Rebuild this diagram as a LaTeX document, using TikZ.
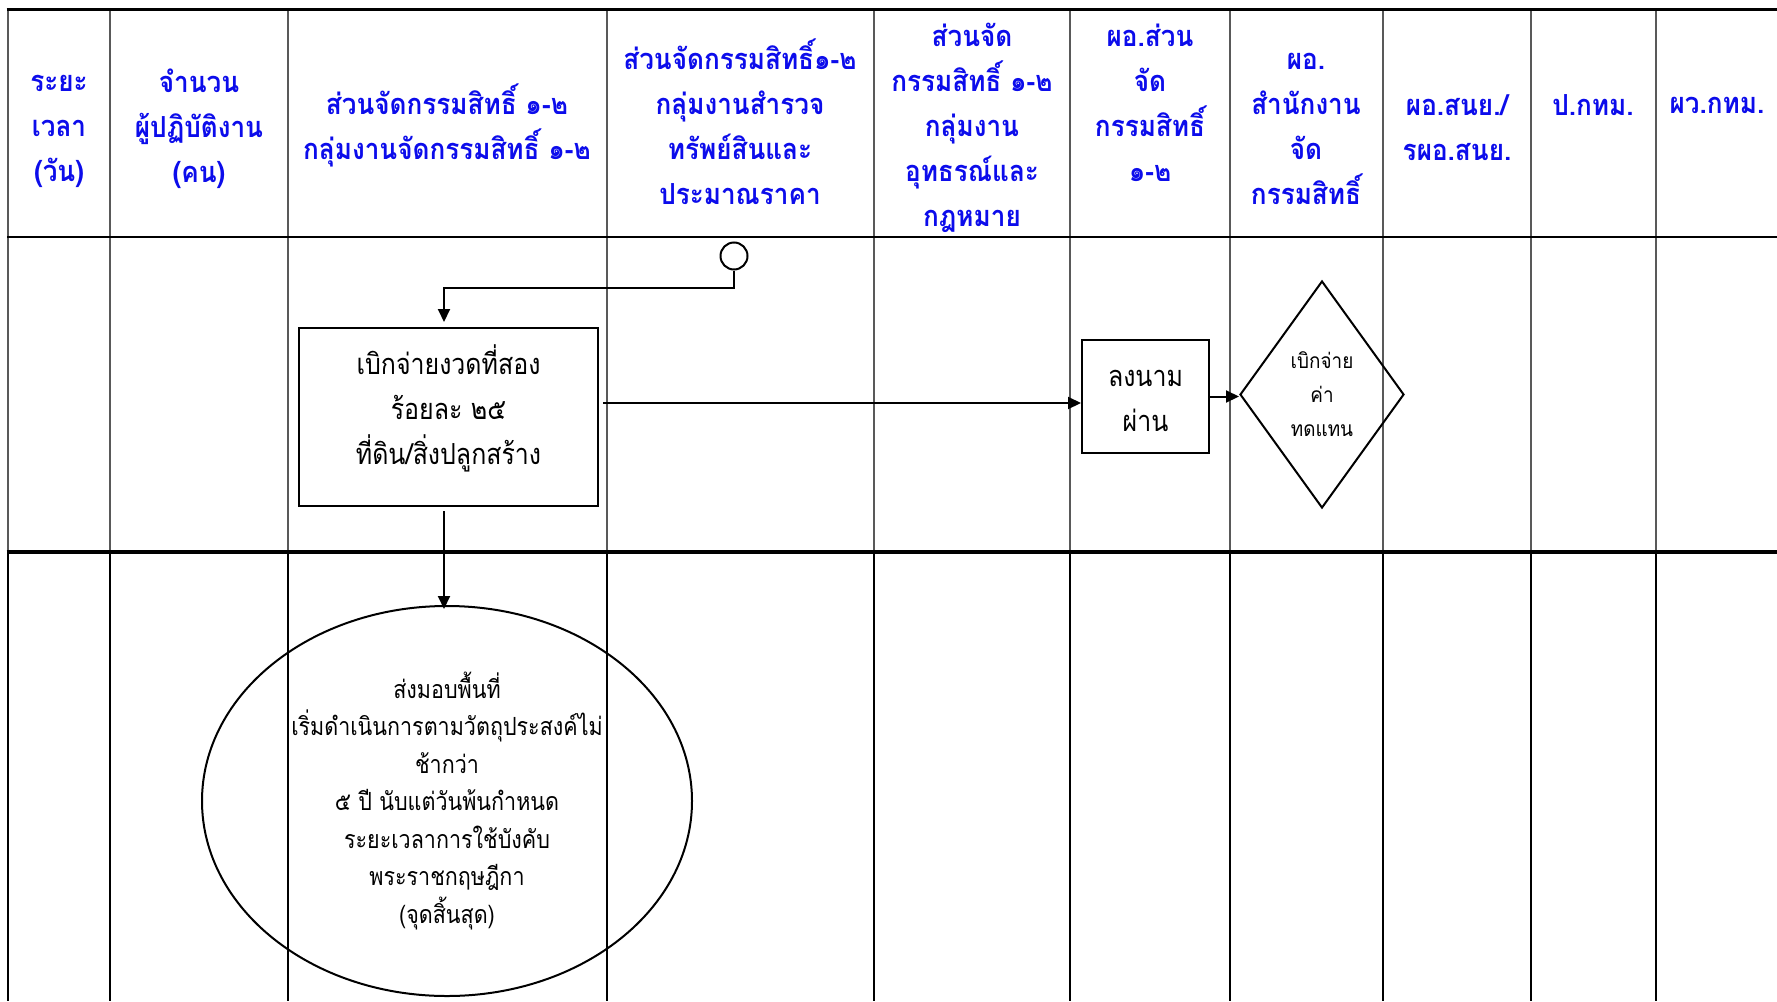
\documentclass[tikz,border=0pt]{standalone}
\usepackage{fontspec}
\newfontfamily\thaihead[Script=Thai,FakeStretch=0.9]{Loma}
\newfontfamily\thaibody[Script=Thai,FakeStretch=0.86]{Loma}
\usetikzlibrary{shapes.geometric,arrows.meta}
\definecolor{headblue}{RGB}{12,12,235}
\begin{document}
\begin{tikzpicture}[x=1pt,y=-1pt,
  headtext/.style={text=headblue,align=center,inner sep=0pt,
    font=\thaihead\bfseries\fontsize{29}{45}\selectfont},
  bodytext/.style={align=center,inner sep=0pt},
  procfont/.style={font=\thaibody\fontsize{29}{45}\selectfont},
  thinrule/.style={line width=1.3pt,black!65},
  flow/.style={line width=2pt,-{Triangle[length=13pt,width=12pt]}},
]
\useasboundingbox (0,0) rectangle (1777,1001);
\fill[white] (0,0) rectangle (1777,1001);

% column rules of the header and of the first row
\foreach \x in {8,110,288,607,874,1070,1230,1383,1531,1656}
  \draw[thinrule] (\x,9) -- (\x,552);
% column rules of the second row
\foreach \x/\w in {8/2.8,110/2.8,288/1.3,607/2.2,874/1.3,1070/1.3,1230/1.3,1383/2,1531/2.8,1656/1.6}
  \draw[line width=\w pt] (\x,552) -- (\x,1001);
% row rules
\draw[line width=3pt] (6.5,9) -- (1777,9);
\draw[line width=2pt] (7,237) -- (1777,237);
\draw[line width=3.5pt] (6.5,552) -- (1777,552);

% column headings
\node[headtext] (h1) at (59,131) {ระยะ\\เวลา\\(วัน)};
\node[headtext] (h2) at (199,129) {จำนวน\\ผู้ปฏิบัติงาน\\(คน)};
\node[headtext] (h3) at (447,125) {ส่วนจัดกรรมสิทธิ์ ๑-๒\\กลุ่มงานจัดกรรมสิทธิ์ ๑-๒};
\node[headtext] (h4) at (740,122) {ส่วนจัดกรรมสิทธิ์๑-๒\\กลุ่มงานสำรวจ\\ทรัพย์สินและ\\ประมาณราคา};
\node[headtext] (h5) at (972,128) {ส่วนจัด\\กรรมสิทธิ์ ๑-๒\\กลุ่มงาน\\อุทธรณ์และ\\กฎหมาย};
\node[headtext] (h6) at (1150,103) {ผอ.ส่วน\\จัด\\กรรมสิทธิ์\\๑-๒};
\node[headtext] (h7) at (1306,129) {ผอ.\\สำนักงาน\\จัด\\กรรมสิทธิ์};
\node[headtext] (h8) at (1457,128) {ผอ.สนย./\\รผอ.สนย.};
\node[headtext] (h9) at (1593,105) {ป.กทม.};
\node[headtext] (h10) at (1717,105) {ผว.กทม.};

% flow elements
\node[draw,circle,line width=2pt,minimum size=27pt,inner sep=0pt] (start) at (734,256) {};
\node[draw,line width=2pt,minimum width=299pt,minimum height=178pt,
  label={[bodytext,procfont,yshift=9pt]center:เบิกจ่ายงวดที่สอง\\ร้อยละ ๒๕\\ที่ดิน/สิ่งปลูกสร้าง}]
  (pay) at (448.5,417) {};
\node[draw,line width=2pt,minimum width=127pt,minimum height=113pt,
  label={[bodytext,procfont,yshift=-4pt]center:ลงนาม\\ผ่าน}]
  (sign) at (1145.5,396.5) {};
\node[draw,diamond,line width=2pt,aspect=0.72,minimum width=164pt,minimum height=227pt,
  bodytext,font=\thaihead\fontsize{21}{34}\selectfont] (comp) at (1322,394.5)
  {เบิกจ่าย\\ค่า\\ทดแทน};
\node[draw,ellipse,line width=2pt,minimum width=490pt,minimum height=390pt,
  bodytext,font=\thaibody\fontsize{25}{37.5}\selectfont] (done) at (447,801)
  {ส่งมอบพื้นที่\\เริ่มดำเนินการตามวัตถุประสงค์ไม่\\ช้ากว่า\\๕ ปี นับแต่วันพ้นกำหนด\\ระยะเวลาการใช้บังคับ\\พระราชกฤษฎีกา\\(จุดสิ้นสุด)};

% connectors
\coordinate (bend) at (444,288);
\draw[flow,shorten >=5pt] (start.south) |- (bend) -- (bend |- pay.north);
\draw[flow] ([xshift=4pt,yshift=14pt]pay.east) -- ([yshift=14pt]pay.east -| sign.west);
\draw[flow] (sign.east) -- (sign.east -| comp.west);
\draw[flow] ([xshift=-4.5pt,yshift=-4pt]pay.south) -- ([xshift=-4.5pt,yshift=-4pt]pay.south |- done.north);
\end{tikzpicture}
\end{document}
